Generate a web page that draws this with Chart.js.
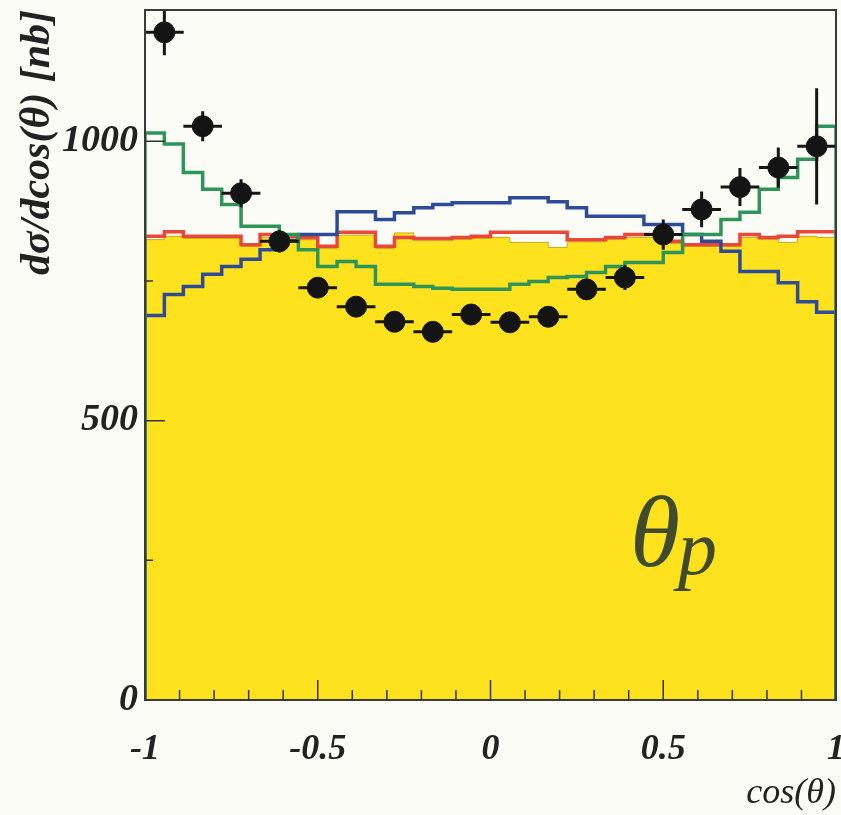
<!DOCTYPE html>
<html>
<head>
<meta charset="utf-8">
<script src="https://cdn.jsdelivr.net/npm/chart.js@4/dist/chart.umd.min.js"></script>
<style>
  html, body { margin: 0; padding: 0; background: #fbfcf6; }
  #wrap { width: 841px; height: 815px; }
</style>
</head>
<body>
<div id="wrap"><canvas id="xsec" width="841" height="815"></canvas></div>
<script>
// histogram bins: low edges of the 36 bins in cos(theta)
var binEdges = [-1, -0.944, -0.889, -0.833, -0.778, -0.722, -0.667, -0.611, -0.556, -0.5, -0.444, -0.389,
    -0.333, -0.278, -0.222, -0.167, -0.111, -0.056, 0, 0.056, 0.111, 0.167, 0.222, 0.278,
    0.333, 0.389, 0.444, 0.5, 0.556, 0.611, 0.667, 0.722, 0.778, 0.833, 0.889, 0.944];

var yellowHist = [824, 830, 826, 826, 826, 812, 828, 826, 824, 808, 832, 832,
    808, 836, 822, 822, 824, 826, 828, 819, 819, 810, 820, 820,
    824, 828, 828, 817, 812, 812, 812, 828, 824, 819, 830, 828];
var redHist = [830, 838, 830, 830, 830, 815, 833, 830, 828, 812, 837, 837,
    812, 828, 826, 826, 828, 830, 837, 837, 837, 837, 824, 824,
    828, 833, 833, 821, 815, 815, 815, 833, 828, 830, 838, 838];
var greenHist = [1015, 995, 944, 914, 887, 848, 848, 833, 806, 776, 785, 776,
    744, 744, 740, 737, 735, 735, 735, 744, 749, 756, 758, 765,
    776, 783, 783, 801, 833, 833, 860, 873, 914, 935, 968, 1027];
var blueHist = [688, 726, 740, 762, 776, 789, 806, 822, 833, 833, 874, 874,
    860, 872, 881, 887, 890, 890, 890, 899, 899, 892, 881, 866,
    866, 866, 851, 851, 833, 821, 803, 767, 767, 747, 713, 694];

// measured points
var dataX = [-0.944, -0.833, -0.722, -0.611, -0.5, -0.389, -0.278, -0.167, -0.056,
    0.056, 0.167, 0.278, 0.389, 0.5, 0.611, 0.722, 0.833, 0.944];
var dataY = [1195, 1027, 907, 821, 738, 704, 677, 659, 690, 676, 686, 735, 756, 833, 878, 918, 953, 991];
var dataErr = [41, 27, 25, 20, 16, 16, 16, 16, 16, 16, 16, 18, 22, 27, 32, 34, 36, 104];
var dataXErr = 0.056;

// axes
var xMajorTicks = [-1, -0.5, 0, 0.5, 1];
var xTickLabels = ["-1", "-0.5", "0", "0.5", "1"];
var xMinorTicks = [-0.9, -0.8, -0.7, -0.6, -0.4, -0.3, -0.2, -0.1, 0.1, 0.2, 0.3, 0.4, 0.6, 0.7, 0.8, 0.9];
var yMajorTicks = [0, 500, 1000];
var yTickLabels = ["0", "500", "1000"];
var yMinorTicks = [250, 750];

function stepPoints(values) {
    var pts = [{ x: -1, y: 0 }];
    for (var i = 0; i < values.length; i++) {
        pts.push({ x: binEdges[i], y: values[i] });
    }
    pts.push({ x: 1, y: values[values.length - 1] });
    pts.push({ x: 1, y: 0 });
    return pts;
}

function histDataset(values, color, order, fillColor) {
    return {
        type: "line",
        data: stepPoints(values),
        stepped: "before",
        borderColor: color,
        borderWidth: fillColor ? 1 : 3.5,
        backgroundColor: fillColor || "transparent",
        fill: fillColor ? "origin" : false,
        pointRadius: 0,
        order: order
    };
}

var serif = "'Liberation Serif', 'DejaVu Serif', serif";

var overlay = {
    id: "overlay",
    beforeDatasetDraw: function (chart, args) {
        if (args.index !== 0) return;
        var ctx = chart.ctx;
        var xs = chart.scales.x, ys = chart.scales.y;
        ctx.save();
        ctx.strokeStyle = "#161616";
        ctx.lineWidth = 3;
        for (var i = 0; i < dataX.length; i++) {
            var px = xs.getPixelForValue(dataX[i]);
            var py = ys.getPixelForValue(dataY[i]);
            ctx.beginPath();
            ctx.moveTo(xs.getPixelForValue(dataX[i] - dataXErr), py);
            ctx.lineTo(xs.getPixelForValue(dataX[i] + dataXErr), py);
            ctx.moveTo(px, ys.getPixelForValue(dataY[i] - dataErr[i]));
            ctx.lineTo(px, Math.max(chart.chartArea.top, ys.getPixelForValue(dataY[i] + dataErr[i])));
            ctx.stroke();
        }
        ctx.restore();
    },
    afterDatasetsDraw: function (chart) {
        var ctx = chart.ctx;
        var a = chart.chartArea;
        var xs = chart.scales.x, ys = chart.scales.y;
        ctx.save();
        ctx.strokeStyle = "#333";
        ctx.lineWidth = 1.5;
        ctx.beginPath();
        xMajorTicks.forEach(function (v) {
            var p = xs.getPixelForValue(v);
            ctx.moveTo(p, a.bottom); ctx.lineTo(p, a.bottom - 20);
        });
        xMinorTicks.forEach(function (v) {
            var p = xs.getPixelForValue(v);
            ctx.moveTo(p, a.bottom); ctx.lineTo(p, a.bottom - 10);
        });
        yMajorTicks.forEach(function (v) {
            var p = ys.getPixelForValue(v);
            ctx.moveTo(a.left, p); ctx.lineTo(a.left + 20, p);
        });
        yMinorTicks.forEach(function (v) {
            var p = ys.getPixelForValue(v);
            ctx.moveTo(a.left, p); ctx.lineTo(a.left + 8, p);
        });
        ctx.stroke();

        ctx.lineWidth = 2;
        ctx.strokeStyle = "#3a3a3a";
        ctx.strokeRect(a.left, a.top, a.right - a.left, a.bottom - a.top);

        // theta_p label
        ctx.fillStyle = "#3f4b2c";
        ctx.textBaseline = "alphabetic";
        ctx.textAlign = "left";
        ctx.font = "italic 102px " + serif;
        ctx.fillText("θ", 630, 566);
        ctx.font = "italic 78px " + serif;
        ctx.fillText("p", 678, 574);
        ctx.restore();
    }
};

var ctx = document.getElementById("xsec").getContext("2d");

new Chart(ctx, {
    type: "scatter",
    data: {
        datasets: [
            {
                type: "scatter",
                data: dataX.map(function (x, i) { return { x: x, y: dataY[i] }; }),
                backgroundColor: "#141414",
                borderColor: "#141414",
                pointRadius: 10.5,
                pointHoverRadius: 10.5,
                order: 0
            },
            histDataset(greenHist, "#2f9458", 1),
            histDataset(blueHist, "#2e4c96", 2),
            histDataset(redHist, "#e8483a", 3),
            histDataset(yellowHist, "#c9ab1e", 4, "#ffe21e")
        ]
    },
    options: {
        responsive: false,
        animation: false,
        events: [],
        layout: { autoPadding: false, padding: { top: 10, right: 5, left: 0, bottom: 0 } },
        plugins: {
            legend: { display: false },
            tooltip: { enabled: false }
        },
        scales: {
            x: {
                type: "linear",
                min: -1,
                max: 1,
                grid: { display: false, drawTicks: false },
                border: { display: false },
                afterBuildTicks: function (scale) {
                    scale.ticks = xMajorTicks.map(function (v) { return { value: v }; });
                },
                afterFit: function (scale) {
                    scale.height = 115;
                    scale.paddingLeft = 0;
                    scale.paddingRight = 0;
                },
                ticks: {
                    autoSkip: false,
                    maxRotation: 0,
                    padding: 28,
                    color: "#222",
                    font: { family: serif, size: 36, style: "italic", weight: "bold" },
                    callback: function (value, index) { return xTickLabels[index]; }
                },
                title: {
                    display: true,
                    text: "cos(θ)",
                    align: "end",
                    color: "#222",
                    padding: 0,
                    font: { family: serif, size: 36, style: "italic" }
                }
            },
            y: {
                type: "linear",
                min: 0,
                max: 1235,
                grid: { display: false, drawTicks: false },
                border: { display: false },
                afterBuildTicks: function (scale) {
                    scale.ticks = yMajorTicks.map(function (v) { return { value: v }; });
                },
                afterFit: function (scale) {
                    scale.width = 145;
                    scale.paddingTop = 0;
                    scale.paddingBottom = 0;
                },
                ticks: {
                    padding: 7,
                    color: "#222",
                    font: { family: serif, size: 38, style: "italic", weight: "bold" },
                    callback: function (value, index) { return yTickLabels[index]; }
                },
                title: {
                    display: true,
                    text: "dσ/dcos(θ) [nb]",
                    align: "end",
                    color: "#222",
                    padding: { top: 13, bottom: 0 },
                    font: { family: serif, size: 42, style: "italic", weight: "bold" }
                }
            }
        }
    },
    plugins: [overlay]
});
</script>
</body>
</html>
